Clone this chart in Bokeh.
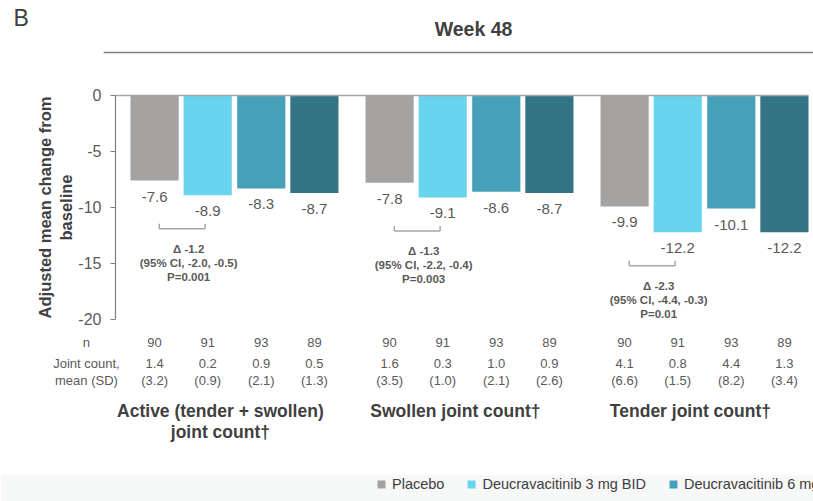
from bokeh.plotting import figure
from bokeh.models import (ColumnDataSource, Range1d, LinearAxis, FixedTicker,
                          Legend, LegendItem, BoxAnnotation, CustomJSTickFormatter)
from bokeh.core.properties import value
from bokeh.embed import file_html
from bokeh.resources import INLINE

# ---------------- data ----------------
groups = ["Active (tender + swollen)\njoint count\u2020",
          "Swollen joint count\u2020",
          "Tender joint count\u2020"]
series = ["Placebo", "Deucravacitinib 3 mg BID",
          "Deucravacitinib 6 mg BID", "Deucravacitinib 12 mg QD"]
colors = ["#a5a3a2", "#68d4ed", "#46a0b9", "#337585"]

placebo = [-7.6, -7.8, -9.9]
deuc3 = [-8.9, -9.1, -12.2]
deuc6 = [-8.3, -8.6, -10.1]
deuc12 = [-8.7, -8.7, -12.2]

n_counts = [90, 91, 93, 89]
placebo_jc_mean = [1.4, 1.6, 4.1]
placebo_jc_sd = [3.2, 3.5, 6.6]
deuc3_jc_mean = [0.2, 0.3, 0.8]
deuc3_jc_sd = [0.9, 1.0, 1.5]
deuc6_jc_mean = [0.9, 1.0, 4.4]
deuc6_jc_sd = [2.1, 2.1, 8.2]
deuc12_jc_mean = [0.5, 0.9, 1.3]
deuc12_jc_sd = [1.3, 2.6, 3.4]

deltas = ["\u0394 -1.2", "\u0394 -1.3", "\u0394 -2.3"]
cis = ["(95% CI, -2.0, -0.5)", "(95% CI, -2.2, -0.4)", "(95% CI, -4.4, -0.3)"]
pvals = ["P=0.001", "P=0.003", "P=0.01"]

y_ticks = [0, -5, -10, -15, -20]
row_labels = ["n", "Joint count,", "mean (SD)"]
title_text = "Week 48"
panel_letter = "B"

values = [placebo, deuc3, deuc6, deuc12]
jc_means = [placebo_jc_mean, deuc3_jc_mean, deuc6_jc_mean, deuc12_jc_mean]
jc_sds = [placebo_jc_sd, deuc3_jc_sd, deuc6_jc_sd, deuc12_jc_sd]

# ---------------- style / layout ----------------
FONT = value("Liberation Sans")
DARK = "#404040"
MID = "#595959"
offsets = [-0.34, -0.114, 0.114, 0.34]
BAR_W = 0.205
X0, X1 = -0.9957, 2.4638
Y0, Y1 = -36.25, 8.482
AXIS_X = -0.5064

Y_N, Y_JC1, Y_JC2 = -22.05, -23.93, -25.45
Y_G1 = -28.2

p = figure(width=813, height=501, output_backend="svg", toolbar_location=None,
           x_range=Range1d(X0, X1), y_range=Range1d(Y0, Y1),
           x_axis_type=None, y_axis_type=None,
           min_border_left=0, min_border_right=0, min_border_top=0,
           min_border_bottom=0)
p.outline_line_color = None
p.background_fill_color = "white"
p.border_fill_color = "white"

# faint footer strip
p.add_layout(BoxAnnotation(bottom=Y0, top=-33.9, fill_color="#f6f7f7",
                           fill_alpha=1, line_color=None, level="underlay"))

yaxis = LinearAxis(bounds=(-20, 0), ticker=FixedTicker(ticks=y_ticks),
                   fixed_location=AXIS_X,
                   formatter=CustomJSTickFormatter(code="return tick.toString()"),
                   axis_label="Adjusted mean change from\nbaseline")
yaxis.axis_line_color = "#7f7f7f"
yaxis.axis_line_width = 1.2
yaxis.major_tick_line_color = "#7f7f7f"
yaxis.major_tick_out = 5
yaxis.major_tick_in = 0
yaxis.minor_tick_line_color = None
yaxis.major_label_text_font = "Liberation Sans"
yaxis.major_label_text_font_size = "16px"
yaxis.major_label_text_color = MID
yaxis.major_label_standoff = 9
yaxis.axis_label_text_font = "Liberation Sans"
yaxis.axis_label_text_font_size = "16.5px"
yaxis.axis_label_text_font_style = "bold"
yaxis.axis_label_text_color = DARK
yaxis.axis_label_standoff = 0
p.add_layout(yaxis, "left")

legend_items = []
for s in range(4):
    xs = [g + offsets[s] for g in range(3)]
    src = ColumnDataSource(dict(
        x=xs, top=[0] * 3, bottom=values[s],
        lab=[f"{v:.1f}" for v in values[s]],
        n=[str(n_counts[s])] * 3,
        m=[f"{v:.1f}" for v in jc_means[s]],
        sd=[f"({v:.1f})" for v in jc_sds[s]],
    ))
    r = p.vbar(x="x", top="top", bottom="bottom", width=BAR_W, source=src,
               fill_color=colors[s], line_color=None)
    legend_items.append(LegendItem(label=series[s], renderers=[r]))
    p.text(x="x", y="bottom", text="lab", source=src, y_offset=16,
           text_align="center", text_baseline="middle", text_font=FONT,
           text_font_size="15px", text_color=MID)
    for col, yy in (("n", Y_N), ("m", Y_JC1), ("sd", Y_JC2)):
        p.text(x="x", y=yy, text=col, source=src, text_align="center",
               text_baseline="middle", text_font=FONT,
               text_font_size="13px", text_color=MID)

# zero line
p.segment(x0=[AXIS_X], y0=[0], x1=[2 + offsets[3] + BAR_W / 2], y1=[0],
          line_color="#a6a6a6", line_width=1.5)

# brackets + annotation text
bx0 = [g - 0.32 for g in range(3)]
bx1 = [g - 0.125 for g in range(3)]
by = [v - 3.0 for v in deuc3]
p.segment(x0=bx0, y0=by, x1=bx1, y1=by, line_color="#a6a6a6", line_width=1.5)
p.segment(x0=bx0, y0=by, x1=bx0, y1=[b + 0.45 for b in by],
          line_color="#a6a6a6", line_width=1.5)
p.segment(x0=bx1, y0=by, x1=bx1, y1=[b + 0.45 for b in by],
          line_color="#a6a6a6", line_width=1.5)
tx = [g - 0.195 for g in range(3)]
for txt, off in ((deltas, 20), (cis, 34), (pvals, 48)):
    p.text(x=tx, y=by, text=txt, y_offset=off, text_align="center",
           text_baseline="middle", text_font=FONT, text_font_size="11.5px",
           text_font_style="bold", text_color=MID)

# group labels
gx = [g - 0.06 for g in range(3)]
for li in range(2):
    lines = [gname.split("\n")[li] if len(gname.split("\n")) > li else ""
             for gname in groups]
    p.text(x=gx, y=Y_G1, text=lines, y_offset=21 * li, text_align="center",
           text_baseline="middle", text_font=FONT, text_font_size="17.5px",
           text_font_style="bold", text_color=DARK)

# row labels
p.text(x=[-0.63] * 3, y=[Y_N, Y_JC1, Y_JC2], text=row_labels,
       text_align="center", text_baseline="middle", text_font=FONT,
       text_font_size="13px", text_color=MID)

# title, top rule, panel letter
p.text(x=[1.017], y=[5.98], text=[title_text], text_align="center",
       text_baseline="middle", text_font=FONT, text_font_size="19.5px",
       text_font_style="bold", text_color=DARK)
p.segment(x0=[-0.557], y0=[3.84], x1=[X1], y1=[3.84],
          line_color="#7f7f7f", line_width=1.5)
p.text(x=[-0.908], y=[6.875], text=[panel_letter], text_align="center",
       text_baseline="middle", text_font=FONT, text_font_size="23px",
       text_color=DARK)

legend = Legend(items=legend_items, orientation="horizontal",
                location=(376, 9), padding=0, margin=0, spacing=22,
                glyph_width=10, glyph_height=10, label_standoff=6,
                label_text_font="Liberation Sans", label_text_font_size="14.5px",
                label_text_color=DARK, border_line_color=None,
                background_fill_alpha=0)
p.add_layout(legend)

open("out.html", "w").write(file_html(p, INLINE))
